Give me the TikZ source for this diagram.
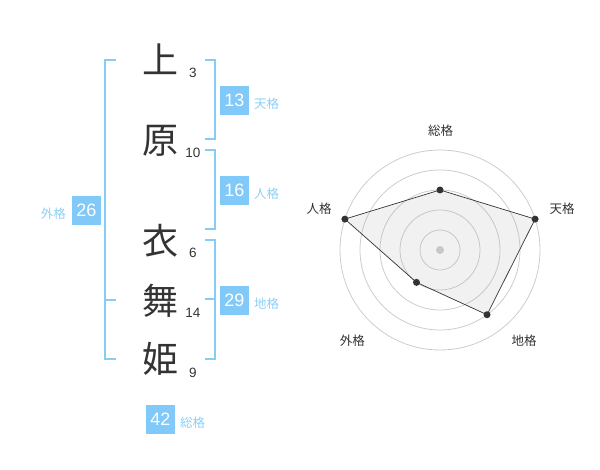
\documentclass[tikz,border=0pt]{standalone}
\usepackage{fontspec}
\usetikzlibrary{calc}
\setmainfont{Liberation Sans}
\newfontfamily\cjk{Noto Sans CJK JP}
\definecolor{ink}{HTML}{333333}
\definecolor{bracketblue}{HTML}{86CCF7}
\definecolor{boxblue}{HTML}{80C9F8}
\definecolor{labelblue}{HTML}{8DCFF5}
\definecolor{ringgray}{HTML}{CCCCCC}
\tikzset{
  bigch/.style={inner sep=0pt, text=ink, font=\cjk\fontsize{36}{36}\selectfont},
  strokes/.style={inner sep=0pt, text=ink, font=\fontsize{13.5}{14}\selectfont},
  bracket/.style={draw=bracketblue, line width=2pt},
  scorebox/.style={fill=boxblue, text=white, minimum width=29pt, minimum height=29pt, inner sep=0pt, font=\fontsize{18}{18}\selectfont},
  kaku/.style={inner sep=0pt, text=labelblue, font=\cjk\fontsize{12.5}{13}\selectfont},
  ring/.style={draw=ringgray, line width=0.8pt},
  axislabel/.style={inner sep=0pt, text=ink, font=\cjk\fontsize{12.5}{13}\selectfont},
  dot/.style={circle, fill=ink, inner sep=0pt, minimum size=7pt},
}
\begin{document}
\begin{tikzpicture}[x=1pt,y=-1pt]
\useasboundingbox (0,0) rectangle (600,470);
% characters
\node[bigch] (c1) at (160,59) {上};
\node[bigch] (c2) at (160,141) {原};
\node[bigch] (c3) at (160,241) {衣};
\node[bigch] (c4) at (160,301) {舞};
\node[bigch] (c5) at (160,359) {姫};
% stroke counts
\node[strokes] (n1) at (193,73) {3};
\node[strokes] (n2) at (193,153) {10};
\node[strokes] (n3) at (193,253) {6};
\node[strokes] (n4) at (193,313) {14};
\node[strokes] (n5) at (193,373) {9};
% brackets
\draw[bracket] (116,60) -- (105,60) -- (105,359) -- (116,359);
\draw[bracket] (105,300) -- (116,300);
\draw[bracket] (205,60) -- (215,60) -- (215,139.5) -- (205,139.5);
\draw[bracket] (205,150) -- (215,150) -- (215,229.5) -- (205,229.5);
\draw[bracket] (205,240) -- (215,240) -- (215,359.5) -- (205,359.5);
\draw[bracket] (205,299.5) -- (215,299.5);
% score boxes
\node[scorebox] (b13) at (234.5,100.5) {13};
\node[scorebox] (b16) at (234.5,190.5) {16};
\node[scorebox] (b29) at (234.5,300.5) {29};
\node[scorebox] (b26) at (86.5,210.5) {26};
\node[scorebox] (b42) at (160.5,419) {42};
\node[kaku, anchor=west] (l13) at (254,103.5) {天格};
\node[kaku, anchor=west] (l16) at (254,193.5) {人格};
\node[kaku, anchor=west] (l29) at (254,303.5) {地格};
\node[kaku] (l26) at (53.3,213.5) {外格};
\node[kaku, anchor=west] (l42) at (180,422.5) {総格};
% radar chart
\coordinate (ctr) at (440,250);
\foreach \r in {20,40,60,80,100} \draw[ring] (ctr) circle (\r);
\fill[ringgray] (ctr) circle (4);
\coordinate (pS) at ($(ctr)+(-90:60)$);
\coordinate (pT) at ($(ctr)+(-18:100)$);
\coordinate (pC) at ($(ctr)+(54:80)$);
\coordinate (pG) at ($(ctr)+(126:40)$);
\coordinate (pJ) at ($(ctr)+(198:100)$);
\filldraw[fill=gray!60, fill opacity=0.18, draw=ink, line width=0.7pt] (pS) -- (pT) -- (pC) -- (pG) -- (pJ) -- cycle;
\foreach \p in {pS,pT,pC,pG,pJ} \node[dot] at (\p) {};
\node[axislabel] (aS) at (440.7,130.7) {総格};
\node[axislabel] (aT) at (562,208.7) {天格};
\node[axislabel] (aC) at (524,340.7) {地格};
\node[axislabel] (aG) at (352.3,340.7) {外格};
\node[axislabel] (aJ) at (319,208.7) {人格};
\end{tikzpicture}
\end{document}
